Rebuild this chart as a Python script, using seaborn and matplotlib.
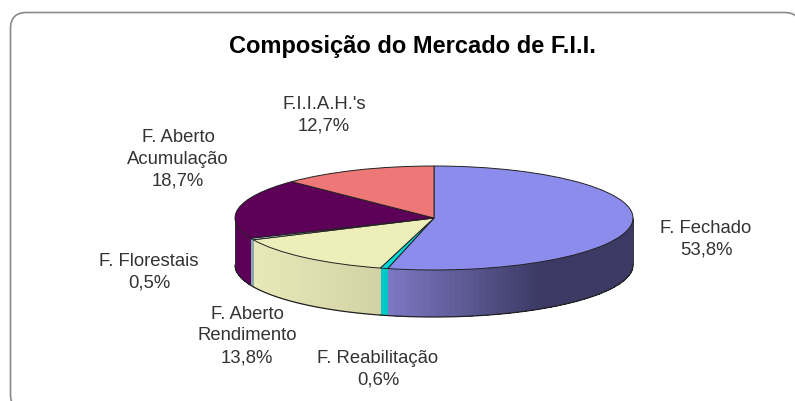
"""Composição do Mercado de F.I.I. - pizza 3D feita com pie + paredes laterais"""
import numpy as np
import matplotlib
matplotlib.use('Agg')
import matplotlib.pyplot as plt
from matplotlib.colors import to_rgb
from matplotlib.patches import FancyBboxPatch
from matplotlib.transforms import Affine2D
import seaborn as sns

W, H = 795, 401

title = 'Composição do Mercado de F.I.I.'
categories = ['F. Fechado', 'F. Reabilitação', 'F. Aberto\nRendimento', 'F. Florestais',
              'F. Aberto\nAcumulação', "F.I.I.A.H.'s"]
values = [53.8, 0.6, 13.8, 0.5, 18.7, 12.7]
value_labels = ['53,8%', '0,6%', '13,8%', '0,5%', '18,7%', '12,7%']
colors = ['#8c8cec', '#00d8d8', '#eeeebb', '#c8f0f0', '#5c0058', '#ee7777']
# cor da parede lateral: inicio e fim do gradiente (esquerda -> direita)
side_left = ['#7c78c4', '#00c8c8', '#e8e8b8', '#8aa8b0', '#5c0058', '#ee7777']
side_right = ['#3c3a64', '#00c8c8', '#d2d2a6', '#8aa8b0', '#5c0058', '#ee7777']
label_pos = [(706, 239), (378, 369), (247, 336), (149, 272), (178, 159), (324, 115)]

sns.set_theme(style='white')
plt.rcParams['font.family'] = ['Liberation Sans', 'DejaVu Sans']

# elipse do topo em pixels
cx, cy, rx, ry, depth = 434, 218, 199, 52, 47

fig = plt.figure(figsize=(W / 100, H / 100), dpi=100, facecolor='white')
ax = fig.add_axes([0, 0, 1, 1])
ax.patch.set_visible(False)
px = Affine2D().scale(1 / W, -1 / H).translate(0, 1) + fig.transFigure

# moldura arredondada
frame = FancyBboxPatch((10.5, 12.5), 790, 398, boxstyle='round,pad=0,rounding_size=16',
                       transform=px, fc='white', ec='#8a8a8a', lw=1.2, clip_on=False, zorder=-1)
fig.patches.append(frame)

# paredes laterais (metade da frente da elipse)
d = depth / ry
edges = np.cumsum([0] + values) / sum(values) * 2 * np.pi
for i in range(len(values)):
    a0, a1 = max(edges[i], np.pi / 2), min(edges[i + 1], 3 * np.pi / 2)
    if a1 <= a0:
        continue
    t = np.linspace(a0, a1, 60)
    xs, ys = np.sin(t), np.cos(t)
    xl, xr = xs.min(), xs.max()
    c0, c1 = np.array(to_rgb(side_left[i])), np.array(to_rgb(side_right[i]))
    # gradiente: escurece da esquerda ate o centro da parede direita
    for j in range(len(t) - 1):
        f = min(1, ((xs[j] + xs[j + 1]) / 2 - xl) / max((xr - xl) * (0.62 if i == 0 else 1), 1e-6))
        ax.fill_between(xs[j:j + 2], ys[j:j + 2], ys[j:j + 2] - d, facecolor=c0 + (c1 - c0) * f,
                        edgecolor='none', antialiased=False, zorder=2)
    ax.plot(xs, ys - d, color='#222222', lw=0.9, zorder=3)
ax.plot([-1, -1], [0, -d], color='#333333', lw=0.7, zorder=3)
ax.plot([1, 1], [0, -d], color='#333333', lw=0.7, zorder=3)

# topo da pizza
ax.pie(values, colors=colors, startangle=90, counterclock=False, radius=1,
       wedgeprops={'edgecolor': '#222222', 'linewidth': 0.7, 'zorder': 4})
ax.set_aspect('auto')
ax.set_xlim(-cx / rx, (W - cx) / rx)
ax.set_ylim((cy - H) / ry, cy / ry)
ax.axis('off')

fig.text(412, 47, title, transform=px, ha='center', va='center', fontsize=17,
         fontweight='bold', color='black')
for name, val, (x, y) in zip(categories, value_labels, label_pos):
    fig.text(x, y, name + '\n' + val, transform=px, ha='center', va='center',
             fontsize=13.3, color='#333333', linespacing=1.38)

fig.savefig('out.png', dpi=100)
